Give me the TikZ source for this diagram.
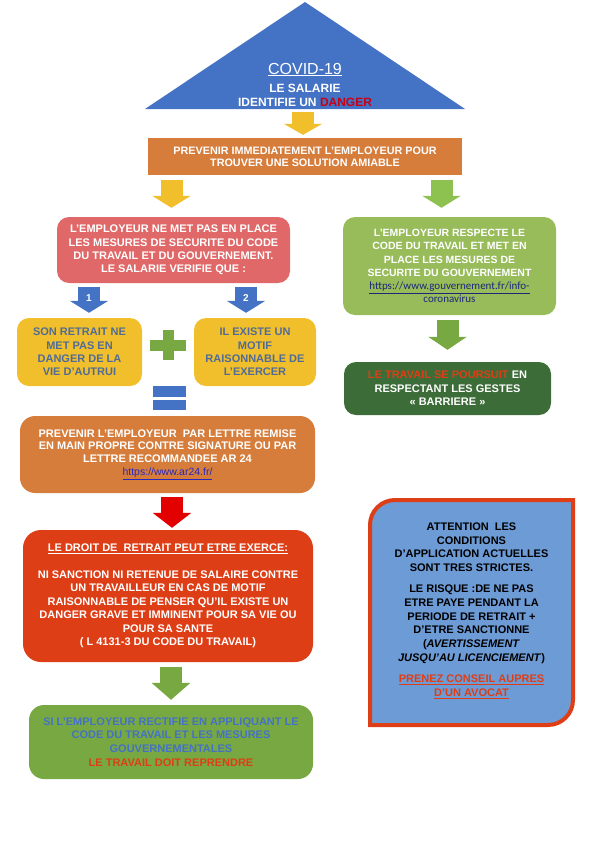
\documentclass[tikz,border=0pt]{standalone}
\usepackage{fontspec}
\setmainfont{Liberation Sans}
\newfontfamily\calibri{Carlito}
\usetikzlibrary{arrows.meta,calc}

\definecolor{cbleu}{RGB}{68,114,196}
\definecolor{corange}{RGB}{214,125,60}
\definecolor{croserouge}{RGB}{224,104,104}
\definecolor{colive}{RGB}{152,188,90}
\definecolor{cjaune}{RGB}{241,191,44}
\definecolor{cvertclair}{RGB}{142,194,80}
\definecolor{cvert}{RGB}{120,168,66}
\definecolor{cvertfonce}{RGB}{60,108,55}
\definecolor{crougeor}{RGB}{222,62,22}
\definecolor{crouge}{RGB}{226,0,0}
\definecolor{cbleuclair}{RGB}{108,155,214}
\definecolor{cacier}{RGB}{80,108,150}
\definecolor{cdanger}{RGB}{200,0,20}
\definecolor{clien}{RGB}{40,40,190}
\definecolor{clienfonce}{RGB}{25,40,120}

\tikzset{
  boite/.style={rounded corners=12pt, align=center, inner sep=0pt, text=white,
    font=\bfseries\fontsize{11}{13.4}\selectfont},
  fleche/.style={line width=22pt, -{Triangle[width=38pt,length=#1]}},
  fleche/.default=12pt,
}

\begin{document}
\begin{tikzpicture}[x=1pt,y=-1pt]
\useasboundingbox (0,0) rectangle (595,841);
% ---- triangle du titre ----
\coordinate (sommet) at (305,2);
\coordinate (tribase) at (305,109);
\fill[cbleu] (sommet) -- (145,109) -- (465,109) -- cycle;
\node[anchor=base, text=white, inner sep=0pt, font=\fontsize{16}{18}\selectfont] (covid) at (305,74) {\underline{COVID-19}};
\node[anchor=base, text=white, inner sep=0pt, font=\bfseries\fontsize{12}{14}\selectfont] (salarie) at (305,92) {LE SALARIE};
\node[anchor=base, text=white, inner sep=0pt, font=\bfseries\fontsize{12}{14}\selectfont] (danger) at (305,106) {IDENTIFIE UN \textcolor{cdanger}{DANGER}};
% ---- bandeau orange ----
\node[boite, rounded corners=0pt, fill=corange, minimum width=314pt, minimum height=37pt,
  font=\bfseries\fontsize{10.8}{12}\selectfont] (bar) at (305,156.5)
  {PREVENIR IMMEDIATEMENT L'EMPLOYEUR POUR\\TROUVER UNE SOLUTION AMIABLE};
\draw[fleche=11pt, cjaune] ($(tribase)+(-2,3)$) -- ($(bar.north)+(-2,-3)$);
% ---- deux branches ----
\node[boite, fill=croserouge, minimum width=233pt, minimum height=66pt] (nomesure) at (173.5,250)
  {L'EMPLOYEUR NE MET PAS EN PLACE\\LES MESURES DE SECURITE DU CODE\\DU TRAVAIL ET DU GOUVERNEMENT.\\LE SALARIE VERIFIE QUE :};
\node[boite, fill=colive, minimum width=213pt, minimum height=98pt,
  font=\bfseries\fontsize{10.5}{13.2}\selectfont] (respecte) at (449.5,266)
  {L'EMPLOYEUR RESPECTE LE\\CODE DU TRAVAIL ET MET EN\\PLACE LES MESURES DE\\SECURITE DU GOUVERNEMENT\\
   {\calibri\mdseries\fontsize{11}{13.2}\selectfont\textcolor{clienfonce}{\underline{https://www.gouvernement.fr/info-}}}\\
   {\calibri\mdseries\fontsize{11}{13.2}\selectfont\textcolor{clienfonce}{coronavirus}}};
\draw[fleche=12pt, cjaune] ($(bar.south -| nomesure.north)+(-2,5)$) -- ($(nomesure.north)+(-2,-9)$);
\draw[fleche=12pt, cvertclair] ($(bar.south -| respecte.north)+(-8,5)$) -- ($(respecte.north)+(-8,-9)$);
% ---- les deux conditions ----
\node[boite, fill=cjaune, text=cacier, minimum width=125pt, minimum height=68pt] (retrait) at (79.5,352)
  {SON RETRAIT NE\\MET PAS EN\\DANGER DE LA\\VIE D'AUTRUI};
\node[boite, fill=cjaune, text=cacier, minimum width=122pt, minimum height=68pt] (motif) at (255,352)
  {IL EXISTE UN\\MOTIF\\RAISONNABLE DE\\L'EXERCER};
\draw[fleche=12pt, cbleu] ($(nomesure.south -| retrait.north)+(9.5,4)$) -- node[pos=0.42, text=white, font=\bfseries\fontsize{10}{11}\selectfont] {1} ($(retrait.north)+(9.5,-5)$);
\draw[fleche=12pt, cbleu] ($(nomesure.south -| motif.north)+(-9,4)$) -- node[pos=0.42, text=white, font=\bfseries\fontsize{10}{11}\selectfont] {2} ($(motif.north)+(-9,-5)$);
% plus et egal
\path ($(retrait.east)!0.5!(motif.west)$) coordinate (plus);
\fill[cvert] ($(plus)+(-18,-12.5)$) rectangle ($(plus)+(18,-1.5)$);
\fill[cvert] ($(plus)+(-5.5,-22)$) rectangle ($(plus)+(5.5,8)$);
\coordinate (egal) at (169.5,398);
\fill[cbleu] ($(egal)+(-16.5,-12)$) rectangle ($(egal)+(16.5,-1)$);
\fill[cbleu] ($(egal)+(-16.5,2)$) rectangle ($(egal)+(16.5,12)$);
% ---- suite a droite ----
\node[boite, fill=cvertfonce, minimum width=207pt, minimum height=53pt] (poursuit) at (447.5,388.5)
  {\textcolor{crougeor}{LE TRAVAIL SE POURSUIT} EN\\RESPECTANT LES GESTES\\« BARRIERE »};
\draw[fleche=13pt, cvert] ($(respecte.south -| poursuit.north)+(0,5)$) -- ($(poursuit.north)+(0,-12)$);
% ---- lettre, droit de retrait, reprise ----
\node[boite, rounded corners=15pt, fill=corange, minimum width=295pt, minimum height=77pt,
  font=\bfseries\fontsize{11}{12.7}\selectfont] (lettre) at (167.5,454.5)
  {PREVENIR L'EMPLOYEUR\ \ PAR LETTRE REMISE\\EN MAIN PROPRE CONTRE SIGNATURE OU PAR\\LETTRE RECOMMANDEE AR 24\\
   {\mdseries\fontsize{10.5}{12.7}\selectfont\textcolor{clien}{\underline{https://www.ar24.fr/}}}};
\node[boite, rounded corners=18pt, fill=crougeor, minimum width=290pt, minimum height=132pt,
  font=\bfseries\fontsize{11}{13.5}\selectfont] (droit) at (168,596)
  {\underline{LE DROIT DE\ \ RETRAIT PEUT ETRE EXERCE:}\\[13.5pt]
   NI SANCTION NI RETENUE DE SALAIRE CONTRE\\UN TRAVAILLEUR EN CAS DE MOTIF\\RAISONNABLE DE PENSER QU'IL EXISTE UN\\DANGER GRAVE ET IMMINENT POUR SA VIE OU\\POUR SA SANTE\\( L 4131-3 DU CODE DU TRAVAIL)};
\draw[fleche=15pt, crouge] ($(lettre.south -| droit.north)+(4,4)$) -- ($(droit.north)+(4,-2)$);
\node[boite, rounded corners=15pt, fill=cvert, text=cbleu, minimum width=284pt, minimum height=74pt,
  font=\bfseries\fontsize{11}{13.6}\selectfont] (reprise) at (171,742)
  {SI L'EMPLOYEUR RECTIFIE EN APPLIQUANT LE\\CODE DU TRAVAIL ET LES MESURES\\GOUVERNEMENTALES\\\textcolor{crougeor}{LE TRAVAIL DOIT REPRENDRE}};
\draw[fleche=17pt, cvert] ($(droit.south -| reprise.north)+(0,5)$) -- ($(reprise.north)+(0,-5)$);
% ---- encadre attention ----
\path (370,500) coordinate (attno) (573,725) coordinate (attse);
\filldraw[fill=cbleuclair, draw=crougeor, line width=4pt]
  (attno |- attse) -- ($(attno)+(0,25)$) arc[start angle=180, end angle=90, radius=25pt]
  -- (attse |- attno) -- ($(attse)+(0,-25)$) arc[start angle=0, end angle=-90, radius=25pt] -- cycle;
\node[align=center, inner sep=0pt, font=\bfseries\fontsize{11}{13.8}\selectfont] (attention) at ($(attno)!0.5!(attse)+(0,-2)$)
  {ATTENTION\ \ LES\\CONDITIONS\\D'APPLICATION ACTUELLES\\SONT TRES STRICTES.\\[7pt]
   LE RISQUE :DE NE PAS\\ETRE PAYE PENDANT LA\\PERIODE DE RETRAIT +\\D'ETRE SANCTIONNE\\(\textit{AVERTISSEMENT}\\\textit{JUSQU'AU LICENCIEMENT})\\[7pt]
   \textcolor{crougeor}{\underline{PRENEZ CONSEIL AUPRES}}\\\textcolor{crougeor}{\underline{D'UN AVOCAT}}};
\end{tikzpicture}
\end{document}
